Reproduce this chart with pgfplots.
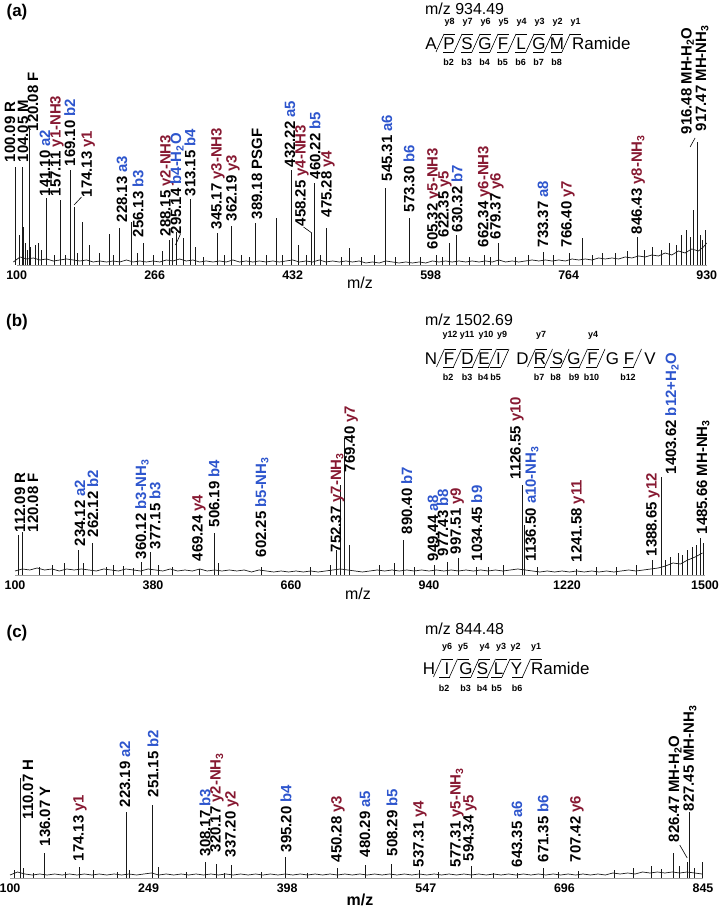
\documentclass[border=0pt]{standalone}
\usepackage{fontspec}
\setmainfont{Liberation Sans}
\usepackage{pgfplots}
\pgfplotsset{compat=1.18}
\definecolor{ionb}{RGB}{45,85,205}
\definecolor{ionr}{RGB}{135,25,50}
\definecolor{spec}{RGB}{25,25,25}
\newcommand{\labfont}{\fontsize{15}{15}\selectfont\bfseries}
\newcommand{\tickfont}{\fontsize{12.5}{12.5}\selectfont\bfseries}
\newcommand{\seqfont}{\fontsize{17}{17}\selectfont}
\newcommand{\mzfont}{\fontsize{16}{16}\selectfont}
\newcommand{\ionfont}{\fontsize{9}{9}\selectfont\bfseries}
\newcommand{\LB}[4]{\node[rotate=90,anchor=west,inner sep=0.5bp,font=\labfont] at (axis cs:#1,#2) {#3 \textcolor{ionb}{#4}};}
\newcommand{\LR}[4]{\node[rotate=90,anchor=west,inner sep=0.5bp,font=\labfont] at (axis cs:#1,#2) {#3 \textcolor{ionr}{#4}};}
\newcommand{\LK}[3]{\node[rotate=90,anchor=west,inner sep=0.5bp,font=\labfont] at (axis cs:#1,#2) {#3};}
\newcommand{\NH}{NH\textsubscript{3}}
\newcommand{\HO}{H\textsubscript{2}O}
\newcommand{\Sl}[3]{\draw[line width=0.6bp] ({#1-4},#2) -- ({#1+4},#3);}
\newcommand{\Yh}[4]{\draw[line width=0.6bp] ({#1+4},#2) -- ({#1+15},#2); \node[font=\ionfont,anchor=base,inner sep=0] at ({#1+9.5},#3) {#4};}
\newcommand{\Bh}[4]{\draw[line width=0.6bp] ({#1-4},#2) -- ({#1-15},#2); \node[font=\ionfont,anchor=base,inner sep=0] at ({#1-9.5},#3) {#4};}
\newcommand{\Let}[3]{\node[font=\seqfont,anchor=base,inner sep=0] at (#1,#2) {#3};}
\pgfplotsset{specax/.style={
  scale only axis, clip=false,
  axis x line*=bottom, axis y line=none,
  x axis line style={-, draw=gray!75, line width=0.9bp},
  xtick style={draw=none},
  xticklabel style={font=\tickfont, yshift=-2bp},
  scaled x ticks=false, scaled y ticks=false,
  ymin=0,
}}
\begin{document}
\begin{tikzpicture}[x=1bp,y=1bp]
% ---------------- panel (a)
\begin{axis}[specax, at={(16.7bp,642bp)}, anchor=south west, width=690bp, height=265bp,
  xmin=100, xmax=930, ymax=265,
  xtick={100,266,432,598,764,930}, xticklabels={100,266,432,598,764,930}]
\addplot[spec, line width=0.7bp, no marks] coordinates {
(96,3)(104,8)(112,6)(120,7)(128,5)(136,6)(144,4)(152,5)(160,6)(168,5)(176,4)(184,5)(192,3)(200,4)(208,3)(216,4)(224,3)(232,5)(240,3)(248,4)(256,3)(264,4)(272,3)(280,5)(288,4)(296,6)(304,4)(312,5)(320,3)(328,4)(336,3)(344,4)(352,3)(360,5)(368,3)(376,4)(384,3)(392,4)(400,3)(408,4)(416,3)(424,4)(432,5)(440,3)(448,4)(456,3)(464,5)(472,3)(480,4)(488,3)(496,4)(504,3)(512,4)(520,2)(528,3)(536,2)(544,4)(552,3)(560,2)(568,3)(576,2)(584,3)(592,2)(600,4)(608,3)(616,4)(624,3)(632,4)(640,3)(648,4)(656,3)(664,4)(672,3)(680,5)(688,3)(696,4)(704,3)(712,4)(720,5)(728,4)(736,5)(744,4)(752,5)(760,4)(768,6)(776,5)(784,6)(792,5)(800,7)(808,6)(816,7)(824,6)(832,8)(840,7)(848,9)(856,8)(864,10)(872,9)(880,12)(888,10)(896,14)(904,12)(912,16)(920,14)(926,18)(930,22)};
\addplot[spec, ycomb, line width=0.8bp, no marks] coordinates {
(98,98)(103,30)(106.4,98)(108,38)(111,22)(113,15)(116,18)(115,135)(122,20)(126,22)(130,15)(136,67)(145,10)(152,65)(158,10)(164,95)(169,58)(173,12)(179,43)(188,20)(200,12)(211,31)(216,10)(223,37)(237.5,43)(245,12)(252,22)(265,10)(275,14)(284,25)(287.6,27)(292.5,33)(300,27)(309,66)(314.5,18)(325,8)(341.7,32)(350,10)(358.6,39)(370,10)(380,8)(386.7,42)(400,10)(412.7,47)(420,10)(430,95)(438.7,20)(448,10)(454.8,32)(457.6,82)(465,10)(472.9,37)(490,8)(500,17)(515,8)(530,10)(543,77)(555,8)(572,47)(585,8)(605,10)(612,8)(621,22)(629,30)(645,8)(662,10)(670,8)(679,22)(700,8)(715,10)(733.5,13)(745,10)(765,12)(780,27)(792,10)(805,12)(820,12)(835,14)(847,28)(855,15)(865,18)(875,15)(885,22)(893,20)(900,30)(906,35)(910,28)(914,55)(918.7,123)(922,30)(925,25)(929,35)};
\LK{92}{102}{100.09 R}
\LK{107.6}{102}{104.05 M}
\LK{119.6}{133}{120.08 F}
\LB{134}{68}{141.10}{a2}
\LR{148.5}{68}{157.11}{y1-NH3}
\LB{164}{98}{169.10}{b2}
\LR{186}{67}{174.13}{y1}
\draw[line width=0.6bp] (axis cs:169,60) -- (axis cs:178,68);
\LB{226.6}{42}{228.13}{a3}
\LB{246}{27}{256.13}{b3}
\LR{280.8}{28}{288.15}{y2-NH3}
\LB{292.8}{30}{295.14}{b4-\HO}
\draw[line width=0.6bp] (axis cs:291,20) -- (axis cs:297,31);
\LB{308.5}{68}{313.15}{b4}
\LR{342}{35}{345.17}{y3-NH3}
\LR{360}{43}{362.19}{y3}
\LK{389}{45}{389.18 PSGF}
\LB{428.8}{97}{432.22}{a5}
\LR{443}{38}{458.25}{y4-NH3}
\draw[line width=0.6bp] (axis cs:445,38) -- (axis cs:455,32);
\LB{459}{85}{460.22}{b5}
\LR{474.5}{47}{475.28}{y4}
\LB{545.4}{83}{545.31}{a6}
\LB{572}{52}{573.30}{b6}
\LR{602}{15}{605.32}{y5-NH3}
\LR{615}{27}{622.35}{y5}
\LB{629.6}{32}{630.32}{b7}
\LR{663}{17}{662.34}{y6-NH3}
\LR{677.7}{25}{679.37}{y6}
\LB{733}{17}{733.37}{a8}
\LR{763}{17}{766.40}{y7}
\LR{847.7}{30}{846.43}{y8-\NH}
\LK{907}{130}{916.48 MH-\HO}
\draw[line width=0.6bp] (axis cs:910,118) -- (axis cs:916,127);
\LK{924.4}{133}{917.47 MH-\NH}
\end{axis}
% ---------------- panel (b)
\begin{axis}[specax, at={(15bp,332bp)}, anchor=south west, width=690bp, height=270bp,
  xmin=100, xmax=1500, ymax=270,
  xtick={100,380,660,940,1220,1500}, xticklabels={100,380,660,940,1220,1500}]
\addplot[spec, line width=0.7bp, no marks] coordinates {
(100,4)(115,6)(130,5)(145,7)(160,5)(175,6)(190,4)(205,6)(220,5)(235,6)(250,5)(265,4)(280,6)(295,5)(310,4)(325,6)(340,5)(355,4)(370,6)(385,5)(400,4)(415,6)(430,4)(445,5)(460,4)(475,6)(490,4)(505,5)(520,4)(535,5)(550,4)(565,5)(580,3)(595,5)(610,4)(625,3)(640,4)(655,3)(670,4)(685,3)(700,4)(715,3)(730,4)(745,5)(760,6)(775,5)(790,4)(805,3)(820,4)(835,5)(850,4)(865,5)(880,4)(895,5)(910,4)(925,5)(940,4)(955,5)(970,4)(985,5)(1000,4)(1015,5)(1030,4)(1045,5)(1060,4)(1075,5)(1090,4)(1105,5)(1120,6)(1135,5)(1150,4)(1165,3)(1180,4)(1195,3)(1210,4)(1225,3)(1240,4)(1255,3)(1270,4)(1285,3)(1300,4)(1315,3)(1330,4)(1345,5)(1360,4)(1375,5)(1390,6)(1405,7)(1420,9)(1435,12)(1450,11)(1465,15)(1480,18)(1495,22)};
\addplot[spec, ycomb, line width=0.8bp, no marks] coordinates {
(106,40)(114,43)(150,8)(175,10)(200,12)(228,25)(238.6,12)(257.6,32)(285,8)(300,10)(320,9)(340,7)(357,13)(374,23)(390,10)(420,8)(475,6)(504,42)(512,12)(600.5,8)(700,8)(740,10)(753,25)(761,90)(767.5,137)(777.7,30)(840,10)(870,12)(889,35)(910,8)(950,10)(978,13)(999.5,17)(1037,8)(1060,8)(1090,10)(1130,90)(1133,50)(1160,8)(1240,6)(1280,8)(1320,8)(1360,10)(1393,15)(1412,98)(1420,15)(1430,18)(1445,22)(1455,20)(1465,25)(1475,28)(1482,30)(1491,37)(1497,32)};
\LK{110}{42}{112.09 R}
\LK{136.5}{42}{120.08 F}
\LB{232}{28}{234.12}{a2}
\LB{258}{37}{262.12}{b2}
\LB{357.7}{15}{360.12}{b3-\NH}
\LB{384}{25}{377.15}{b3}
\LR{473}{13}{469.24}{y4}
\LB{504}{47}{506.19}{b4}
\LB{601}{17}{602.25}{b5-\NH}
\LR{754}{22}{752.37}{y7-\NH}
\LR{782}{102}{769.40}{y7}
\LB{895}{40}{890.40}{b7}
\LB{948}{13}{949.44}{a8}
\LB{968}{18}{977.43}{b8}
\LR{997}{20}{997.51}{y9}
\LB{1037}{13}{1034.45}{b9}
\LR{1118.6}{95}{1126.55}{y10}
\LB{1149}{13}{1136.50}{a10-\NH}
\LR{1242}{12}{1241.58}{y11}
\LR{1394.5}{18}{1388.65}{y12}
\LB{1433}{100}{1403.62}{b12+\HO}
\LK{1496}{40}{1485.66 MH-\NH}
\end{axis}
% ---------------- panel (c)
\begin{axis}[specax, at={(10bp,29bp)}, anchor=south west, width=693bp, height=270bp,
  xmin=100, xmax=845, ymax=270,
  xtick={100,249,398,547,696,845}, xticklabels={100,249,398,547,696,845}]
\addplot[spec, line width=0.7bp, no marks] coordinates {
(100,3)(108,6)(116,4)(124,3)(132,4)(140,3)(148,4)(156,3)(164,4)(172,3)(180,4)(188,3)(196,4)(204,3)(212,4)(220,3)(228,4)(236,3)(244,4)(252,5)(260,3)(268,4)(276,3)(284,4)(292,3)(300,4)(308,3)(316,4)(324,3)(332,4)(340,3)(348,4)(356,3)(364,4)(372,3)(380,4)(388,3)(396,4)(404,3)(412,4)(420,3)(428,4)(436,3)(444,4)(452,3)(460,4)(468,3)(476,4)(484,3)(492,4)(500,3)(508,4)(516,3)(524,4)(532,3)(540,4)(548,3)(556,4)(564,3)(572,4)(580,3)(588,4)(596,3)(604,4)(612,3)(620,4)(628,3)(636,4)(644,3)(652,4)(660,3)(668,4)(676,3)(684,4)(692,3)(700,4)(708,3)(716,4)(724,3)(732,4)(740,3)(748,5)(756,4)(764,5)(772,4)(780,6)(788,5)(796,6)(804,5)(812,6)(820,5)(828,6)(836,5)(844,4)};
\addplot[spec, ycomb, line width=0.8bp, no marks] coordinates {
(105,8)(111.5,100)(114,10)(125,5)(137,25)(160,6)(175,11)(190,8)(215,6)(224.7,66)(228,8)(253,73)(259.5,11)(290,6)(309.6,16)(322,14)(330,5)(338.3,13)(370,6)(396.4,21)(420,5)(452,10)(481.6,13)(510,14)(540,8)(560,6)(596,12)(620,5)(646,5)(673,10)(690,6)(711,7)(750,8)(770,10)(790,12)(800,9)(812.7,25)(820,12)(827.8,16)(830,66)(836,10)(844,16)};
\LK{119.4}{58}{110.07 H}
\LK{137.6}{31}{136.07 Y}
\LR{175.3}{16}{174.13}{y1}
\LB{223.6}{70}{223.19}{a2}
\LB{253.7}{80}{251.15}{b2}
\LB{309.6}{21}{308.17}{b3}
\LR{322.5}{25}{320.17}{y2-\NH}
\LR{338.7}{20}{337.20}{y2}
\LB{396.7}{25}{395.20}{b4}
\LR{452.6}{15}{450.28}{y3}
\LB{481.6}{20}{480.29}{a5}
\LB{510.7}{21}{508.29}{b5}
\LR{540.8}{10}{537.31}{y4}
\LR{580.5}{10}{577.31}{y5-\NH}
\LR{594.5}{16}{594.34}{y5}
\LB{645}{10}{643.35}{a6}
\LB{673}{15}{671.35}{b6}
\LR{709.5}{15}{707.42}{y6}
\LK{815}{35}{826.47 MH-\HO}
\draw[line width=0.6bp] (axis cs:820,33) -- (axis cs:828,20);
\LK{831}{66}{827.45 MH-\NH}
\end{axis}
% ---------------- annotations
\node[font=\fontsize{17}{17}\selectfont\bfseries] at (17,895) {(a)};
\node[font=\fontsize{17}{17}\selectfont\bfseries] at (17,585) {(b)};
\node[font=\fontsize{17}{17}\selectfont\bfseries] at (17,274) {(c)};
\node[font=\mzfont] at (360,624) {m/z};
\node[font=\mzfont] at (358,313) {m/z};
\node[font=\mzfont\bfseries] at (360,7) {m/z};
% sequence (a)
\node[font=\mzfont,anchor=base west,inner sep=0] at (425,892) {m/z 934.49};
\Let{431}{857}{A}\Let{449}{857}{P}\Let{467}{857}{S}\Let{485}{857}{G}\Let{503}{857}{F}\Let{521}{857}{L}\Let{539}{857}{G}\Let{557}{857}{M}
\node[font=\seqfont,anchor=base west,inner sep=0] at (572,857) {Ramide};
\foreach \xx/\yl in {440/y8,458/y7,476/y6,494/y5,512/y4,530/y3,548/y2,566/y1}{\Sl{\xx}{855}{873}\Yh{\xx}{873}{882}{\yl}}
\foreach \xx/\bl in {458/b2,476/b3,494/b4,512/b5,530/b6,548/b7,566/b8}{\Bh{\xx}{855}{841.5}{\bl}}
% sequence (b)
\node[font=\mzfont,anchor=base west,inner sep=0] at (425,581) {m/z 1502.69};
\Let{431}{542}{N}\Let{449}{542}{F}\Let{467.5}{542}{D}\Let{484}{542}{E}\Let{498.5}{542}{I}\Let{522.5}{542}{D}\Let{540}{542}{R}\Let{557.5}{542}{S}\Let{574}{542}{G}\Let{592.5}{542}{F}\Let{612.5}{542}{G}\Let{629}{542}{F}\Let{650}{542}{V}
\foreach \xx in {440.5,457.5,476.5,492.5,505,531.5,548.5,565,583.5,601,637.5}{\Sl{\xx}{540}{558}}
\foreach \xx/\yl in {440.5/y12,457.5/y11,476.5/y10,492.5/y9,531.5/y7,583.5/y4}{\Yh{\xx}{558}{569}{\yl}}
\foreach \xx/\bl in {457.5/b2,476.5/b3,492.5/b4,505/b5,548.5/b7,565/b8,583.5/b9,601/b10,637.5/b12}{\Bh{\xx}{540}{526}{\bl}}
% sequence (c)
\node[font=\mzfont,anchor=base west,inner sep=0] at (425,272) {m/z 844.48};
\Let{429}{232}{H}\Let{447}{232}{I}\Let{466}{232}{G}\Let{482.5}{232}{S}\Let{498.5}{232}{L}\Let{516.5}{232}{Y}
\node[font=\seqfont,anchor=base west,inner sep=0] at (531,232) {Ramide};
\foreach \xx/\yl in {437.5/y6,453.5/y5,475/y4,491.5/y3,506/y2,526.5/y1}{\Sl{\xx}{230}{248}\Yh{\xx}{248}{257}{\yl}}
\foreach \xx/\bl in {453.5/b2,475/b3,491.5/b4,506/b5,526.5/b6}{\Bh{\xx}{230}{215}{\bl}}
\pgfresetboundingbox
\path[use as bounding box] (0,0) rectangle (722,907);
\end{tikzpicture}
\end{document}
